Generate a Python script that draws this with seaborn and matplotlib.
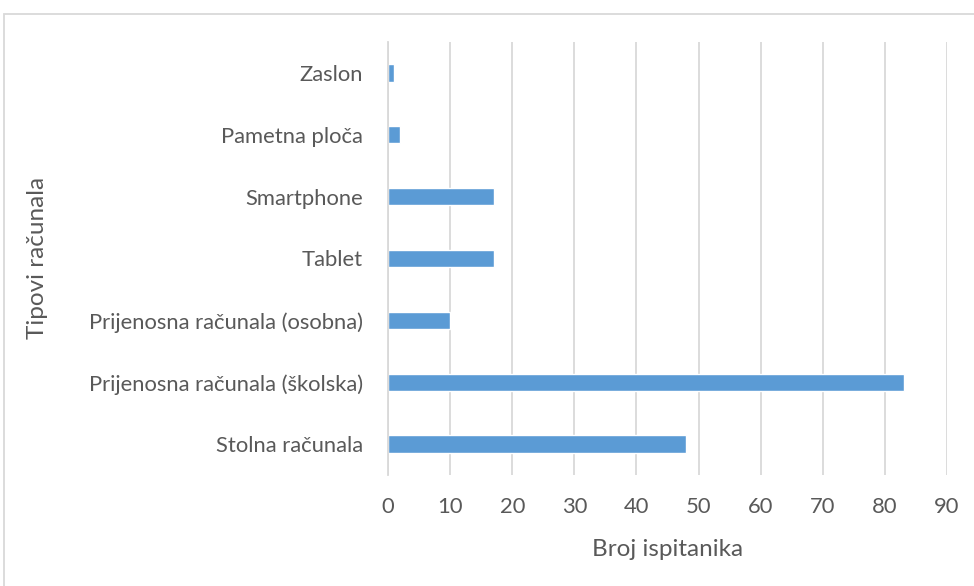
import matplotlib
matplotlib.use("Agg")
import matplotlib.pyplot as plt
import seaborn as sns
import pandas as pd
from matplotlib.patches import Rectangle

categories = ["Zaslon", "Pametna ploča", "Smartphone", "Tablet",
              "Prijenosna računala (osobna)", "Prijenosna računala (školska)",
              "Stolna računala"]
counts = [1, 2, 17, 17, 10, 83, 48]
x_ticks = list(range(0, 100, 10))

df = pd.DataFrame({"tip": categories, "broj": counts})

sns.set_theme(style="white")
plt.rcParams["font.family"] = ["Lato", "DejaVu Sans"]
text_col = "#595959"

fig = plt.figure(figsize=(9.74, 5.86), dpi=100)
ax = fig.add_axes([388 / 974, 1 - 475 / 586, (947 - 388) / 974, (475 - 42) / 586])

sns.barplot(data=df, x="broj", y="tip", orient="h", color="#5B9BD5",
            saturation=1, width=0.28, ax=ax, order=categories)

ax.set_xlim(0, 90)
ax.set_xticks(x_ticks)
ax.xaxis.grid(True, color="#D9D9D9", linewidth=1.3)
ax.set_axisbelow(True)
for s in ["top", "right", "bottom"]:
    ax.spines[s].set_visible(False)
ax.spines["left"].set_color("#D9D9D9")
ax.spines["left"].set_linewidth(1.3)
ax.tick_params(axis="both", length=0, labelsize=15.8, colors=text_col)
ax.tick_params(axis="y", pad=18)
ax.tick_params(axis="x", pad=16)
ax.set_xlabel("Broj ispitanika", fontsize=17.5, color=text_col, labelpad=16)
ax.set_ylabel("")
fig.text(38 / 974, 1 - 258 / 586, "Tipovi računala", rotation=90, fontsize=17.5,
         color=text_col, ha="center", va="center")

# chart area border
fig.patches.append(Rectangle((4 / 974, -0.05), 1.2, 1 - 14 / 586 + 0.05,
                             transform=fig.transFigure, fill=False,
                             edgecolor="#D9D9D9", linewidth=1.3))

fig.savefig("out.png", dpi=100)
